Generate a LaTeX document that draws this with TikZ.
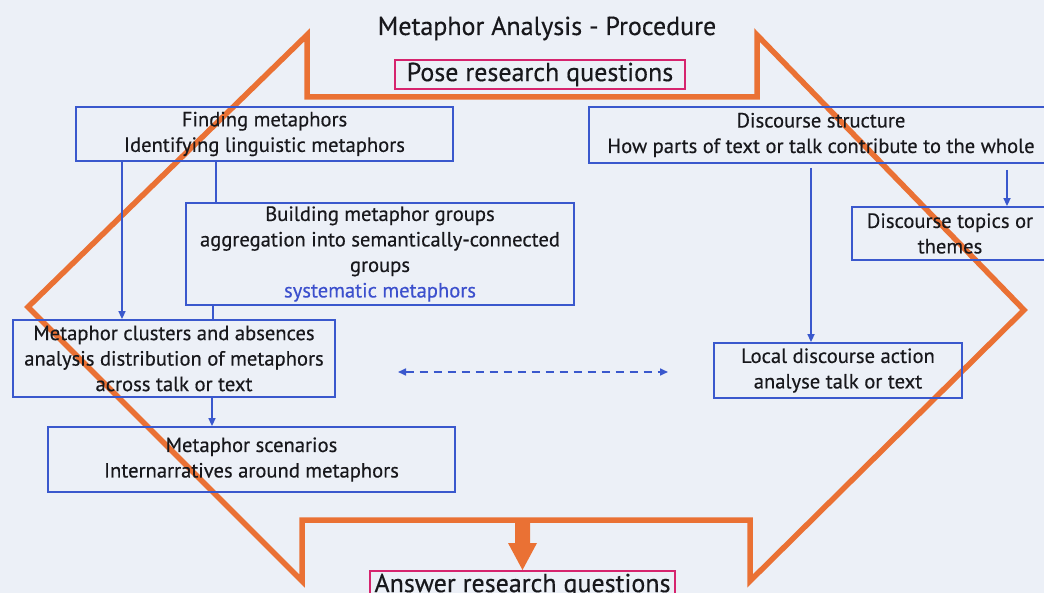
\documentclass[tikz,border=0pt]{standalone}
\usepackage{fontspec}
\setmainfont[FakeBold=0.4]{PT Sans}
\usetikzlibrary{arrows.meta}
\definecolor{pagebg}{RGB}{236,240,247}
\definecolor{boxblue}{RGB}{58,88,205}
\definecolor{frameorange}{RGB}{234,113,52}
\definecolor{qmagenta}{RGB}{214,36,110}
\definecolor{inkgray}{RGB}{24,24,28}
\definecolor{sysblue}{RGB}{60,80,205}

\begin{document}
\begin{tikzpicture}[x=1pt,y=-1pt,
  stepbox/.style={draw=boxblue, line width=1.8pt, inner sep=0pt, align=center,
    text=inkgray, font=\fontsize{20.6}{25.5}\selectfont},
  qbox/.style={draw=qmagenta, line width=1.6pt, inner sep=0pt, text=inkgray,
    font=\fontsize{26}{28}\selectfont},
  link/.style={draw=boxblue, line width=1.6pt},
  larrow/.style={link, -{Triangle[length=8pt,width=7pt]}},
  dlink/.style={link, dash pattern=on 8pt off 6pt,
    {Triangle[length=8pt,width=7pt]}-{Triangle[length=8pt,width=7pt]}},
  frame/.style={draw=frameorange, line width=5.5pt, line join=miter},
]
\useasboundingbox (0,0) rectangle (1044,593);
\fill[pagebg] (0,0) rectangle (1044,593);
\clip (0,0) rectangle (1044,593);

% orange outline: a diamond with a notch at top and bottom
\draw[frame] (307,35) -- (307,97) -- (757,97) -- (757,35) -- (1024,310)
  -- (750,581) -- (750,520) -- (302,520) -- (302,581) -- (28,307) -- cycle;

% orange down arrow towards the answer
\fill[frameorange] (515,520) -- (530,520) -- (530,543) -- (537,543)
  -- (522.5,570) -- (508,543) -- (515,543) -- cycle;

% title and question boxes
\node[text=inkgray, font=\fontsize{26}{28}\selectfont, anchor=base] (title) at (547,35)
  {Metaphor Analysis - Procedure};
\node[qbox, minimum width=290pt, minimum height=29pt] (pose) at (540,74.5)
  {Pose research questions};
\node[qbox, minimum width=305pt, minimum height=29pt] (answer) at (522.5,585.5)
  {Answer research questions};

% metaphor branch
\node[stepbox, minimum width=377pt, minimum height=54pt] (find) at (264.5,134)
  {Finding metaphors\\Identifying linguistic metaphors};
\node[stepbox, minimum width=388pt, minimum height=102pt] (build) at (380,254)
  {Building metaphor groups\\aggregation into semantically-connected\\groups\\
   \textcolor{sysblue}{systematic metaphors}};
\node[stepbox, minimum width=322pt, minimum height=77pt] (clusters) at (174,358.5)
  {Metaphor clusters and absences\\analysis distribution of metaphors\\across talk or text};
\node[stepbox, minimum width=407pt, minimum height=65pt] (scen) at (251.5,459.5)
  {Metaphor scenarios\\Internarratives around metaphors};

% discourse branch
\node[stepbox, minimum width=464pt, minimum height=56pt] (dstruct) at (821,135)
  {Discourse structure\\How parts of text or talk contribute to the whole};
\node[stepbox, minimum width=196pt, minimum height=53pt] (topics) at (950,233.5)
  {Discourse topics or\\themes};
\node[stepbox, minimum width=248pt, minimum height=55pt] (local) at (838,370.5)
  {Local discourse action\\analyse talk or text};

% connector columns
\coordinate (c1) at (122,0);
\coordinate (c2) at (216,0);
\coordinate (c3) at (213,0);
\coordinate (c4) at (212,0);
\coordinate (c5) at (811,0);
\coordinate (c6) at (1007,0);
\coordinate (dl) at (398,372);
\coordinate (dr) at (668,372);

\draw[larrow] (find.south -| c1) -- (clusters.north -| c1);
\draw[link] (find.south -| c2) -- (build.north -| c2);
\draw[link] (build.south -| c3) -- (clusters.north -| c3);
\draw[larrow] (clusters.south -| c4) -- (scen.north -| c4);
\draw[larrow, shorten <=4pt] (dstruct.south -| c5) -- (local.north -| c5);
\draw[larrow, shorten <=6pt] (dstruct.south -| c6) -- (topics.north -| c6);
\draw[dlink] (dl) -- (dr);
\end{tikzpicture}
\end{document}
